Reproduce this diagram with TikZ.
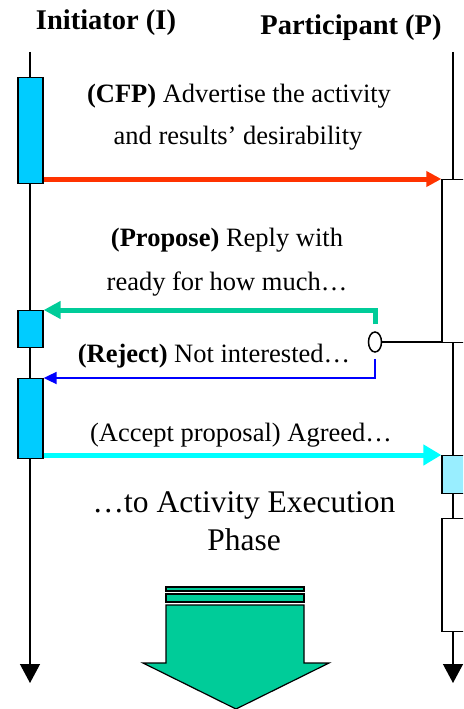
\documentclass[tikz,border=0pt]{standalone}
\usepackage{fontspec}
\setmainfont{Liberation Serif}
\usetikzlibrary{arrows.meta,positioning,shapes.geometric}
\definecolor{actblue}{HTML}{00CCFF}
\definecolor{lightact}{HTML}{99EEFF}
\definecolor{cfpred}{HTML}{FF3300}
\definecolor{propgreen}{HTML}{00CC99}
\definecolor{rejblue}{HTML}{0000FF}
\definecolor{acccyan}{HTML}{00FFFF}
\begin{document}
\begin{tikzpicture}[x=1pt,y=-1pt]
	\tikzstyle{every node}+=[inner sep=0pt]
	\tikzstyle{act}=[draw=black, line width=1.3pt, fill=actblue, minimum width=25pt, anchor=north]
	\tikzstyle{pact}=[draw=black, line width=1.3pt, fill=white, minimum width=26pt, anchor=north]
	\tikzstyle{lifeline}=[black, line width=1.3pt, -{Triangle[width=20pt,length=19pt]}]
	\tikzstyle{title}=[font=\fontsize{28.5}{32}\selectfont\bfseries]
	\tikzstyle{msgtext}=[font=\fontsize{26.5}{30}\selectfont]
	\useasboundingbox (0,0) rectangle (463,709);
	\clip (0,0) rectangle (463,709);
	% lifelines
	\coordinate (itop) at (30,52);
	\coordinate (ibot) at (30,683);
	\coordinate (ptop) at (453,52);
	\coordinate (pbot) at (453,683);
	\draw [lifeline] (itop) -- (ibot);
	\draw [lifeline] (ptop) -- (pbot);
	\node [title] (ini) at (106,23) {Initiator (I)};
	\node [title] (par) at (351,28) {Participant (P)};
	% activations
	\node [act, minimum height=106pt] (i1) at (30.5,77) {};
	\node [act, minimum height=37pt] (i2) at (30.5,310) {};
	\node [act, minimum height=80pt] (i3) at (30.5,378) {};
	\node [pact, minimum height=163pt] (p1) at (455,179) {};
	\node [pact, fill=lightact, minimum height=38pt] (p2) at (455,455) {};
	\node [pact, minimum height=113pt] (p3) at (455,518) {};
	% cfp
	\draw [cfpred, line width=5pt, -{Triangle[width=15pt,length=15pt]}] (i1.east |- p1.north west) -- (p1.north west);
	\node [msgtext] (cfp1) at (239,96) {\textbf{(CFP)} Advertise the activity};
	\node [msgtext] (cfp2) at (238,138) {and results’ desirability};
	% propose / reject
	\node [draw=black, line width=1.5pt, fill=white, ellipse, minimum width=13pt, minimum height=20pt] (ch) at (375,342) {};
	\draw [black, line width=1.5pt] (ch.east) -- (ch.east -| p1.west);
	\draw [propgreen, line width=5pt, shorten <=7pt, -{Triangle[width=17pt,length=17pt]}] (ch.north) |- (i2.north east);
	\node [msgtext] (pro1) at (227,240) {\textbf{(Propose)} Reply with};
	\node [msgtext] (pro2) at (227,284) {ready for how much…};
	\draw [rejblue, line width=1.8pt, shorten <=6pt, -{Triangle[width=12pt,length=13pt]}] (ch.south) |- (i3.north east);
	\node [msgtext] (rej) at (214,356) {\textbf{(Reject)} Not interested…};
	% accept
	\draw [acccyan, line width=5pt, -{Triangle[width=20pt,length=18pt]}] (i3.east |- p2.north west) -- (p2.north west);
	\node [msgtext] (acc) at (241,435) {(Accept proposal) Agreed…};
	\node [font=\fontsize{31.5}{38}\selectfont, align=center] (next) at (244,521) {…to Activity Execution\\Phase};
	% big arrow
	\draw [black, line width=1.2pt, fill=propgreen] (166,587) rectangle (304,591);
	\draw [black, line width=1.2pt, fill=propgreen] (166,594) rectangle (304,602);
	\draw [black, line width=1.2pt, fill=propgreen] (166,605) -- (304,605) -- (304,663) -- (329,663)
		-- (236,709) -- (143,663) -- (166,663) -- cycle;
\end{tikzpicture}
\end{document}
